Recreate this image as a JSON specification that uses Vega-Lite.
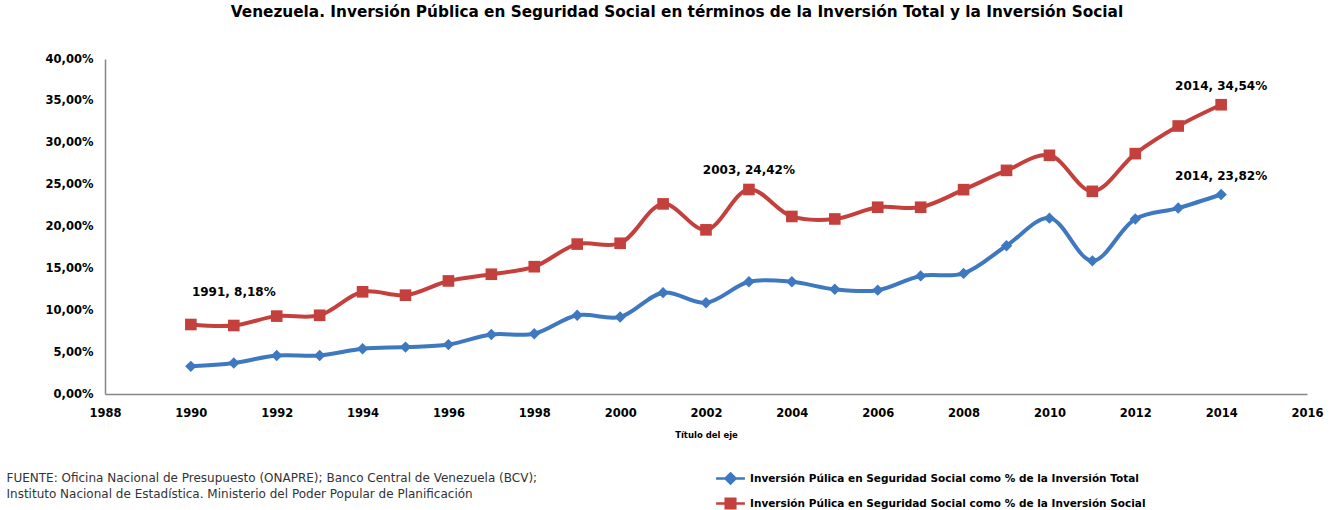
{
  "$schema": "https://vega.github.io/schema/vega-lite/v6.json",
  "width": 1202,
  "height": 335,
  "autosize": {"type": "none"},
  "padding": {"left": 105, "top": 59, "right": 29, "bottom": 116},
  "background": "white",
  "title": {
    "text": "Venezuela. Inversión Pública en Seguridad Social en términos de la Inversión Total y la Inversión Social",
    "font": "DejaVu Sans",
    "fontSize": 15.3,
    "fontWeight": "bold",
    "color": "#000000",
    "anchor": "middle",
    "dx": -29,
    "offset": 33
  },
  "config": {
    "view": {"stroke": null},
    "font": "DejaVu Sans"
  },
  "data": {
    "values": [
      {"year": 1990, "serie": "Inversión Púlica en Seguridad Social como % de la Inversión Total", "value": 3.3},
      {"year": 1991, "serie": "Inversión Púlica en Seguridad Social como % de la Inversión Total", "value": 3.7},
      {"year": 1992, "serie": "Inversión Púlica en Seguridad Social como % de la Inversión Total", "value": 4.6},
      {"year": 1993, "serie": "Inversión Púlica en Seguridad Social como % de la Inversión Total", "value": 4.6},
      {"year": 1994, "serie": "Inversión Púlica en Seguridad Social como % de la Inversión Total", "value": 5.4},
      {"year": 1995, "serie": "Inversión Púlica en Seguridad Social como % de la Inversión Total", "value": 5.6},
      {"year": 1996, "serie": "Inversión Púlica en Seguridad Social como % de la Inversión Total", "value": 5.9},
      {"year": 1997, "serie": "Inversión Púlica en Seguridad Social como % de la Inversión Total", "value": 7.1},
      {"year": 1998, "serie": "Inversión Púlica en Seguridad Social como % de la Inversión Total", "value": 7.2},
      {"year": 1999, "serie": "Inversión Púlica en Seguridad Social como % de la Inversión Total", "value": 9.4},
      {"year": 2000, "serie": "Inversión Púlica en Seguridad Social como % de la Inversión Total", "value": 9.2},
      {"year": 2001, "serie": "Inversión Púlica en Seguridad Social como % de la Inversión Total", "value": 12.1},
      {"year": 2002, "serie": "Inversión Púlica en Seguridad Social como % de la Inversión Total", "value": 10.9},
      {"year": 2003, "serie": "Inversión Púlica en Seguridad Social como % de la Inversión Total", "value": 13.4},
      {"year": 2004, "serie": "Inversión Púlica en Seguridad Social como % de la Inversión Total", "value": 13.4},
      {"year": 2005, "serie": "Inversión Púlica en Seguridad Social como % de la Inversión Total", "value": 12.5},
      {"year": 2006, "serie": "Inversión Púlica en Seguridad Social como % de la Inversión Total", "value": 12.4},
      {"year": 2007, "serie": "Inversión Púlica en Seguridad Social como % de la Inversión Total", "value": 14.1},
      {"year": 2008, "serie": "Inversión Púlica en Seguridad Social como % de la Inversión Total", "value": 14.4},
      {"year": 2009, "serie": "Inversión Púlica en Seguridad Social como % de la Inversión Total", "value": 17.7},
      {"year": 2010, "serie": "Inversión Púlica en Seguridad Social como % de la Inversión Total", "value": 21.0},
      {"year": 2011, "serie": "Inversión Púlica en Seguridad Social como % de la Inversión Total", "value": 15.9},
      {"year": 2012, "serie": "Inversión Púlica en Seguridad Social como % de la Inversión Total", "value": 20.9},
      {"year": 2013, "serie": "Inversión Púlica en Seguridad Social como % de la Inversión Total", "value": 22.2},
      {"year": 2014, "serie": "Inversión Púlica en Seguridad Social como % de la Inversión Total", "value": 23.82},
      {"year": 1990, "serie": "Inversión Púlica en Seguridad Social como % de la Inversión Social", "value": 8.3},
      {"year": 1991, "serie": "Inversión Púlica en Seguridad Social como % de la Inversión Social", "value": 8.18},
      {"year": 1992, "serie": "Inversión Púlica en Seguridad Social como % de la Inversión Social", "value": 9.3},
      {"year": 1993, "serie": "Inversión Púlica en Seguridad Social como % de la Inversión Social", "value": 9.4},
      {"year": 1994, "serie": "Inversión Púlica en Seguridad Social como % de la Inversión Social", "value": 12.2},
      {"year": 1995, "serie": "Inversión Púlica en Seguridad Social como % de la Inversión Social", "value": 11.8},
      {"year": 1996, "serie": "Inversión Púlica en Seguridad Social como % de la Inversión Social", "value": 13.5},
      {"year": 1997, "serie": "Inversión Púlica en Seguridad Social como % de la Inversión Social", "value": 14.3},
      {"year": 1998, "serie": "Inversión Púlica en Seguridad Social como % de la Inversión Social", "value": 15.2},
      {"year": 1999, "serie": "Inversión Púlica en Seguridad Social como % de la Inversión Social", "value": 17.9},
      {"year": 2000, "serie": "Inversión Púlica en Seguridad Social como % de la Inversión Social", "value": 18.0},
      {"year": 2001, "serie": "Inversión Púlica en Seguridad Social como % de la Inversión Social", "value": 22.7},
      {"year": 2002, "serie": "Inversión Púlica en Seguridad Social como % de la Inversión Social", "value": 19.6},
      {"year": 2003, "serie": "Inversión Púlica en Seguridad Social como % de la Inversión Social", "value": 24.42},
      {"year": 2004, "serie": "Inversión Púlica en Seguridad Social como % de la Inversión Social", "value": 21.2},
      {"year": 2005, "serie": "Inversión Púlica en Seguridad Social como % de la Inversión Social", "value": 20.9},
      {"year": 2006, "serie": "Inversión Púlica en Seguridad Social como % de la Inversión Social", "value": 22.3},
      {"year": 2007, "serie": "Inversión Púlica en Seguridad Social como % de la Inversión Social", "value": 22.3},
      {"year": 2008, "serie": "Inversión Púlica en Seguridad Social como % de la Inversión Social", "value": 24.4},
      {"year": 2009, "serie": "Inversión Púlica en Seguridad Social como % de la Inversión Social", "value": 26.7},
      {"year": 2010, "serie": "Inversión Púlica en Seguridad Social como % de la Inversión Social", "value": 28.5},
      {"year": 2011, "serie": "Inversión Púlica en Seguridad Social como % de la Inversión Social", "value": 24.2},
      {"year": 2012, "serie": "Inversión Púlica en Seguridad Social como % de la Inversión Social", "value": 28.7},
      {"year": 2013, "serie": "Inversión Púlica en Seguridad Social como % de la Inversión Social", "value": 32.0},
      {"year": 2014, "serie": "Inversión Púlica en Seguridad Social como % de la Inversión Social", "value": 34.54}
    ]
  },
  "encoding": {
    "x": {
      "field": "year",
      "type": "quantitative",
      "scale": {"domain": [1988, 2016], "nice": false, "zero": false},
      "axis": {
        "values": [1988, 1990, 1992, 1994, 1996, 1998, 2000, 2002, 2004, 2006, 2008, 2010, 2012, 2014, 2016],
        "format": "d",
        "grid": false,
        "ticks": false,
        "domainColor": "#878787",
        "domainWidth": 1.5,
        "labelFont": "DejaVu Sans",
        "labelFontSize": 11.5,
        "labelFontWeight": "bold",
        "labelColor": "#000000",
        "labelPadding": 13,
        "labelFlush": false,
        "title": "Título del eje",
        "titleFont": "DejaVu Sans",
        "titleFontSize": 8.5,
        "titleFontWeight": "bold",
        "titleColor": "#000000",
        "titlePadding": 12
      }
    },
    "y": {
      "field": "value",
      "type": "quantitative",
      "scale": {"domain": [0, 40], "nice": false},
      "axis": {
        "values": [0, 5, 10, 15, 20, 25, 30, 35, 40],
        "labelExpr": "replace(format(datum.value, '.2f'), '.', ',') + '%'",
        "grid": false,
        "ticks": false,
        "domainColor": "#878787",
        "domainWidth": 1.5,
        "labelFont": "DejaVu Sans",
        "labelFontSize": 11.5,
        "labelFontWeight": "bold",
        "labelColor": "#000000",
        "labelPadding": 12,
        "title": ["FUENTE: Oficina Nacional de Presupuesto (ONAPRE); Banco Central de Venezuela (BCV);", "Instituto Nacional de Estadística. Ministerio del Poder Popular de Planificación"],
        "titleAngle": 0,
        "titleAlign": "left",
        "titleBaseline": "top",
        "titleX": -99,
        "titleY": 413,
        "titleFont": "DejaVu Sans",
        "titleFontSize": 12,
        "titleFontWeight": "normal",
        "titleColor": "#333333",
        "titleLineHeight": 16
      }
    }
  },
  "layer": [
    {
      "mark": {"type": "line", "strokeWidth": 4, "interpolate": "catmull-rom"},
      "encoding": {
        "color": {
          "field": "serie",
          "type": "nominal",
          "scale": {
            "domain": ["Inversión Púlica en Seguridad Social como % de la Inversión Total", "Inversión Púlica en Seguridad Social como % de la Inversión Social"],
            "range": ["#3d78c0", "#c4403c"]
          },
          "legend": {
            "orient": "none",
            "legendX": 612,
            "legendY": 406,
            "title": null,
            "direction": "vertical",
            "labelFont": "DejaVu Sans",
            "labelFontSize": 10.5,
            "labelFontWeight": "bold",
            "labelColor": "#000000",
            "labelLimit": 600,
            "labelOffset": 6,
            "symbolSize": 576,
            "rowPadding": 1,
            "symbolStrokeWidth": 2.5,
            "encode": {
              "symbols": {
                "update": {
                  "shape": {"signal": "datum.index == 0 ? 'M-1.2,0H1.2M0,-0.42L0.42,0L0,0.42L-0.42,0Z' : 'M-1.2,0H1.2M-0.4,-0.4H0.4V0.4H-0.4Z'"},
                  "fill": {"signal": "datum.index == 0 ? '#3d78c0' : '#c4403c'"},
                  "stroke": {"signal": "datum.index == 0 ? '#3d78c0' : '#c4403c'"},
                  "fillOpacity": {"value": 1},
                  "strokeWidth": {"value": 2.5}
                }
              }
            }
          }
        }
      }
    },
    {
      "transform": [{"filter": "indexof(datum.serie, 'Inversión Total') > 0"}],
      "mark": {"type": "point", "filled": true, "opacity": 1, "size": 130, "shape": "diamond"},
      "encoding": {
        "color": {"field": "serie", "type": "nominal"}
      }
    },
    {
      "transform": [{"filter": "indexof(datum.serie, 'Inversión Social') > 0"}],
      "mark": {"type": "point", "filled": true, "opacity": 1, "size": 135, "shape": "square"},
      "encoding": {
        "color": {"field": "serie", "type": "nominal"}
      }
    },
    {
      "transform": [
        {"filter": "datum.year == 1991 && indexof(datum.serie, 'Inversión Social') > 0"},
        {"calculate": "datum.year + ', ' + replace(format(datum.value, '.2f'), '.', ',') + '%'", "as": "lbl"}
      ],
      "mark": {"type": "text", "font": "DejaVu Sans", "fontSize": 12, "fontWeight": "bold", "color": "#000000", "dy": -33},
      "encoding": {"text": {"field": "lbl"}}
    },
    {
      "transform": [
        {"filter": "(datum.year == 2003 && indexof(datum.serie, 'Inversión Social') > 0) || datum.year == 2014"},
        {"calculate": "datum.year + ', ' + replace(format(datum.value, '.2f'), '.', ',') + '%'", "as": "lbl"}
      ],
      "mark": {"type": "text", "font": "DejaVu Sans", "fontSize": 12, "fontWeight": "bold", "color": "#000000", "dy": -19},
      "encoding": {"text": {"field": "lbl"}}
    }
  ]
}
